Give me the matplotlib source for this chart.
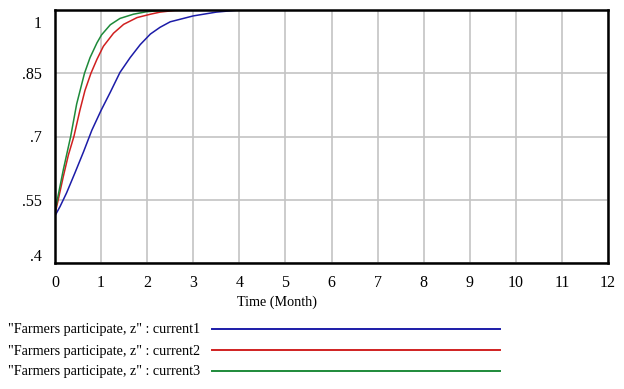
import matplotlib
matplotlib.use("Agg")
import matplotlib.pyplot as plt
import matplotlib.transforms as mtransforms
from matplotlib.lines import Line2D

plt.rcParams['font.family'] = ['Liberation Serif', 'DejaVu Serif']

# Data
t_blue = [0, 0.11, 0.25, 0.43, 0.62, 0.80, 1.0, 1.20, 1.41, 1.63, 1.85, 2.07, 2.28, 2.5, 3.0, 3.5, 4.0, 12]
z_blue = [0.512, 0.534, 0.566, 0.613, 0.664, 0.715, 0.762, 0.805, 0.852, 0.887, 0.918, 0.943, 0.959, 0.972, 0.986, 0.995, 1.0, 1.0]
t_red = [0, 0.07, 0.18, 0.29, 0.41, 0.54, 0.65, 0.78, 0.91, 1.05, 1.27, 1.49, 1.78, 2.07, 2.28, 2.6, 3.0, 12]
z_red = [0.516, 0.55, 0.605, 0.656, 0.70, 0.762, 0.809, 0.85, 0.883, 0.914, 0.945, 0.966, 0.982, 0.99, 0.995, 0.999, 1.0, 1.0]
t_green = [0, 0.05, 0.18, 0.34, 0.47, 0.64, 0.76, 0.91, 1.01, 1.2, 1.41, 1.7, 1.99, 2.5, 12]
z_green = [0.52, 0.55, 0.621, 0.70, 0.777, 0.85, 0.887, 0.922, 0.941, 0.965, 0.98, 0.99, 0.996, 1.0, 1.0]

series_labels = ['"Farmers participate, z" : current1',
                 '"Farmers participate, z" : current2',
                 '"Farmers participate, z" : current3']
colors = ['#1c1ca8', '#d02020', '#1e8a3a']

x_ticks = list(range(0, 13))
y_ticks = [0.4, 0.55, 0.7, 0.85, 1.0]
y_tick_labels = ['.4', '.55', '.7', '.85', '1']
x_label = 'Time (Month)'

fs = 10.2
fig = plt.figure(figsize=(6.24, 3.89), dpi=100)
ax = fig.add_axes([55/624, 1 - 263/389, (608 - 55)/624, (263 - 10)/389])

ax.plot(t_blue, z_blue, color=colors[0], lw=1.1)
ax.plot(t_red, z_red, color=colors[1], lw=1.1)
ax.plot(t_green, z_green, color=colors[2], lw=1.1)

ax.set_xlim(0, 12)
ax.set_ylim(0.4, 1.0)
ax.set_xticks(x_ticks)
ax.set_yticks(y_ticks)
ax.set_yticklabels(y_tick_labels)
ax.grid(True, color='#c4c4c4', lw=1.2)
ax.set_axisbelow(True)
ax.tick_params(length=0, labelsize=11.5)
ax.tick_params(axis='y', pad=9.5)
ax.tick_params(axis='x', pad=8.5)
for s in ax.spines.values():
    s.set_linewidth(1.8)
    s.set_color('black')

# Vensim-style: top and bottom y labels shifted inward
ylabels = ax.get_yticklabels()
ylabels[-1].set_transform(ylabels[-1].get_transform() + mtransforms.ScaledTranslation(0, -12/100, fig.dpi_scale_trans))
ylabels[0].set_transform(ylabels[0].get_transform() + mtransforms.ScaledTranslation(0, 8/100, fig.dpi_scale_trans))

fig.text(277/624, 1 - 302/389, x_label, ha='center', va='center', fontsize=10.2)

# Legend rows
rows_y = [330, 351, 372]
for lab, c, yy in zip(series_labels, colors, rows_y):
    fig.text(8/624, 1 - yy/389, lab, ha='left', va='center', fontsize=fs)
    fig.add_artist(Line2D([212/624, 500/624], [1 - (yy - 1)/389, 1 - (yy - 1)/389],
                          color=c, lw=1.4, transform=fig.transFigure))

fig.savefig('out.png', dpi=100)
